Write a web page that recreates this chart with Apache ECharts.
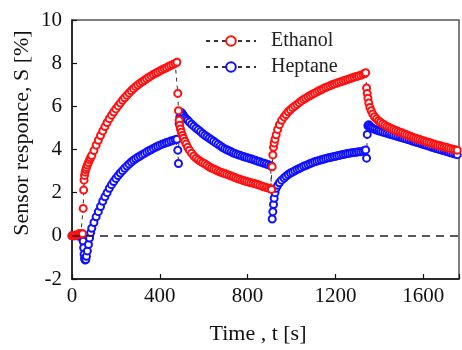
<!DOCTYPE html>
<html>
<head>
<meta charset="utf-8">
<script src="https://cdn.jsdelivr.net/npm/echarts@6/dist/echarts.min.js"></script>
<style>
  html, body { margin: 0; padding: 0; background: #fff; }
  #chart { width: 462px; height: 350px; }
</style>
</head>
<body>
<div id="chart"></div>
<script>
// Time stamps of the recorded sensor response [s]
var timeS = [
  0, 5, 10, 15, 20, 25, 30, 35, 40, 45, 48,
  51, 53, 55, 57, 60, 63, 66, 70, 75, 80, 85, 90,
  100, 110, 120, 130, 140, 150, 160, 170, 180, 190,
  200, 210, 220, 230, 240, 250, 260, 270, 280, 290,
  300, 310, 320, 330, 340, 350, 360, 370, 380, 390,
  400, 410, 420, 430, 440, 450, 460, 470, 478,
  482, 485, 488, 491, 494, 498, 503, 508, 514, 520,
  527, 535, 545, 555, 565, 575, 585, 595, 605, 615,
  625, 635, 645, 655, 665, 675, 685, 695, 705, 715,
  725, 735, 745, 755, 765, 775, 785, 795, 805, 815,
  825, 835, 845, 855, 865, 875, 885, 895, 905,
  909, 912, 915, 918, 921, 925, 930, 937, 945, 955, 966, 975, 985, 995,
  1005, 1015, 1025, 1035, 1045, 1055, 1065, 1075, 1085, 1095,
  1105, 1115, 1125, 1135, 1145, 1155, 1165, 1175, 1185, 1195,
  1205, 1215, 1225, 1235, 1245, 1255, 1265, 1275, 1285, 1295,
  1305, 1315, 1325, 1333, 1338,
  1342, 1345, 1348, 1352, 1357, 1363, 1370, 1378, 1387, 1396,
  1405, 1415, 1425, 1435, 1445, 1455, 1465, 1475, 1485, 1495,
  1505, 1515, 1525, 1535, 1545, 1555, 1565, 1575, 1585, 1595,
  1605, 1615, 1625, 1635, 1645, 1655, 1665, 1675, 1685, 1695,
  1705, 1715, 1725, 1735, 1745, 1755, 1765
];

// Sensor response to ethanol, S [%]
var ethanol = [
  0.0, 0.02, 0.0, 0.03, 0.02, 0.05, 0.08, 0.1, 0.08, 0.1, 0.1,
  1.27, 2.12, 2.58, 2.8, 2.95, 3.07, 3.17, 3.28, 3.4, 3.52, 3.62, 3.72,
  3.95, 4.2, 4.43, 4.65, 4.86, 5.06, 5.25, 5.43, 5.59, 5.74,
  5.88, 6.02, 6.15, 6.28, 6.4, 6.51, 6.62, 6.72, 6.82, 6.91,
  6.99, 7.07, 7.14, 7.21, 7.28, 7.35, 7.41, 7.47, 7.53, 7.58,
  7.64, 7.69, 7.74, 7.79, 7.84, 7.89, 7.94, 7.99, 8.04,
  6.6, 5.8, 5.35, 5.12, 4.95, 4.8, 4.65, 4.52, 4.38, 4.25,
  4.1, 3.97, 3.83, 3.7, 3.6, 3.52, 3.45, 3.39, 3.34, 3.27,
  3.2, 3.14, 3.1, 3.05, 3.0, 2.96, 2.92, 2.89, 2.85, 2.81,
  2.77, 2.73, 2.69, 2.65, 2.62, 2.58, 2.55, 2.52, 2.49, 2.46,
  2.44, 2.41, 2.38, 2.34, 2.3, 2.27, 2.24, 2.21, 2.18,
  2.15, 3.2, 3.75, 4.1, 4.3, 4.48, 4.68, 4.93, 5.15, 5.35, 5.51, 5.62, 5.75, 5.84,
  5.94, 6.01, 6.09, 6.17, 6.25, 6.32, 6.38, 6.44, 6.5, 6.56,
  6.61, 6.66, 6.72, 6.77, 6.82, 6.87, 6.91, 6.95, 7.0, 7.04,
  7.07, 7.11, 7.14, 7.17, 7.21, 7.24, 7.28, 7.31, 7.35, 7.38,
  7.41, 7.44, 7.48, 7.52, 7.56,
  6.85, 6.6, 6.38, 6.15, 5.95, 5.8, 5.65, 5.52, 5.42, 5.33,
  5.26, 5.19, 5.13, 5.07, 5.02, 4.97, 4.93, 4.88, 4.84, 4.8,
  4.76, 4.72, 4.68, 4.64, 4.6, 4.56, 4.52, 4.49, 4.46, 4.42,
  4.39, 4.36, 4.33, 4.3, 4.26, 4.23, 4.2, 4.18, 4.15, 4.12,
  4.1, 4.07, 4.04, 4.01, 3.99, 3.97, 3.95
];

// Sensor response to heptane, S [%]
var heptane = [
  0.0, 0.0, 0.01, 0.0, 0.02, 0.0, 0.01, -0.02, -0.03, -0.05, -0.1,
  -0.25, -0.55, -0.85, -1.05, -1.12, -1.1, -0.95, -0.7, -0.4, -0.1, 0.15, 0.35,
  0.62, 0.88, 1.12, 1.36, 1.6, 1.81, 2.0, 2.2, 2.37, 2.52,
  2.66, 2.79, 2.91, 3.02, 3.13, 3.23, 3.33, 3.42, 3.5, 3.57,
  3.64, 3.7, 3.76, 3.82, 3.88, 3.94, 3.99, 4.05, 4.1, 4.15,
  4.2, 4.24, 4.28, 4.32, 4.35, 4.39, 4.42, 4.45, 4.47,
  3.97, 3.35, 5.2, 5.5, 5.7, 5.72, 5.66, 5.57, 5.49, 5.42,
  5.36, 5.27, 5.17, 5.08, 4.99, 4.91, 4.83, 4.74, 4.66, 4.59,
  4.52, 4.45, 4.38, 4.31, 4.24, 4.17, 4.1, 4.04, 3.99, 3.94,
  3.89, 3.84, 3.8, 3.76, 3.73, 3.69, 3.66, 3.63, 3.6, 3.57,
  3.53, 3.5, 3.46, 3.43, 3.39, 3.36, 3.33, 3.29, 3.25,
  3.22, 0.78, 1.12, 1.45, 1.74, 2.0, 2.2, 2.34, 2.46, 2.58, 2.68, 2.76, 2.84, 2.91,
  2.96, 3.01, 3.07, 3.12, 3.17, 3.22, 3.26, 3.3, 3.35, 3.39,
  3.43, 3.46, 3.49, 3.52, 3.55, 3.58, 3.61, 3.63, 3.65, 3.67,
  3.7, 3.72, 3.75, 3.77, 3.79, 3.81, 3.83, 3.85, 3.86, 3.87,
  3.89, 3.9, 3.92, 3.95, 3.98,
  3.6, 4.7, 5.1, 5.15, 5.08, 5.02, 4.98, 4.94, 4.9, 4.87,
  4.84, 4.81, 4.78, 4.75, 4.72, 4.69, 4.66, 4.63, 4.6, 4.57,
  4.54, 4.51, 4.48, 4.45, 4.41, 4.38, 4.35, 4.32, 4.29, 4.25,
  4.22, 4.19, 4.16, 4.12, 4.09, 4.06, 4.03, 4.0, 3.97, 3.94,
  3.91, 3.88, 3.85, 3.82, 3.79, 3.76, 3.74
];

var xTicks = [0, 400, 800, 1200, 1600];
var yTicks = [-2, 0, 2, 4, 6, 8, 10];

var serif = '"Liberation Serif", "Times New Roman", serif';

function pairs(values) {
  return timeS.map(function (t, i) { return [t, values[i]]; });
}

function gasSeries(name, values, color, z) {
  return {
    name: name,
    type: 'line',
    data: pairs(values),
    z: z,
    symbol: 'emptyCircle',
    symbolSize: 7,
    showSymbol: true,
    itemStyle: { color: color, borderColor: color, borderWidth: 1.3 },
    lineStyle: { color: '#333', width: 1, type: [4, 4] },
    emphasis: { disabled: true },
    animation: false
  };
}

var chart = echarts.init(document.getElementById('chart'), null, { renderer: 'canvas' });

var heptaneSeries = gasSeries('Heptane', heptane, '#1010ff', 3);
// dashed baseline at S = 0
heptaneSeries.markLine = {
  silent: true,
  symbol: 'none',
  label: { show: false },
  lineStyle: { color: '#222', width: 1.5, type: [8, 6] },
  data: [{ yAxis: 0 }],
  animation: false
};

chart.setOption({
  backgroundColor: '#fff',
  animation: false,
  grid: {
    left: 72, right: 1, top: 20, bottom: 71,
    show: true, borderColor: '#555', borderWidth: 1.5
  },
  legend: {
    data: ['Ethanol', 'Heptane'],
    orient: 'vertical',
    left: 200,
    top: 26,
    itemWidth: 50,
    itemHeight: 12,
    itemGap: 6,
    selectedMode: false,
    textStyle: { fontFamily: serif, fontSize: 20, color: '#222', padding: [0, 0, 0, 10] }
  },
  xAxis: {
    type: 'value',
    min: 0,
    max: 1763,
    interval: 400,
    axisLine: { onZero: false, lineStyle: { color: '#111', width: 1.5 } },
    axisTick: { inside: true, length: 5, lineStyle: { color: '#111', width: 1.2 } },
    splitLine: { show: false },
    axisLabel: {
      fontFamily: serif, fontSize: 21, color: '#111', margin: 7,
      formatter: function (v) { return xTicks.indexOf(v) >= 0 ? String(v) : ''; }
    }
  },
  yAxis: {
    type: 'value',
    min: -2,
    max: 10,
    interval: 2,
    axisLine: { onZero: false, lineStyle: { color: '#111', width: 1.5 } },
    axisTick: { inside: true, length: 5, lineStyle: { color: '#111', width: 1.2 } },
    splitLine: { show: false },
    axisLabel: {
      fontFamily: serif, fontSize: 21, color: '#111', margin: 10,
      formatter: function (v) { return yTicks.indexOf(v) >= 0 ? String(v) : ''; }
    }
  },
  graphic: [
    {
      type: 'text',
      x: 22, y: 133,
      rotation: Math.PI / 2,
      style: {
        text: 'Sensor responce, S [%]',
        font: '22px ' + serif,
        fill: '#111',
        align: 'center',
        verticalAlign: 'middle'
      }
    },
    {
      type: 'text',
      x: 258, y: 334,
      style: {
        text: 'Time , t [s]',
        font: '22px ' + serif,
        fill: '#111',
        align: 'center',
        verticalAlign: 'middle'
      }
    }
  ],
  series: [
    heptaneSeries,
    gasSeries('Ethanol', ethanol, '#ff1010', 4)
  ]
});
</script>
</body>
</html>
